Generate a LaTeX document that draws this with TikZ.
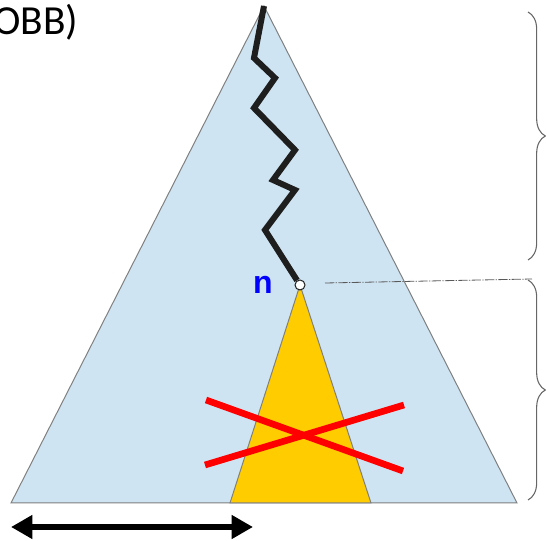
\documentclass[tikz,border=0pt]{standalone}
\usepackage{fontspec}
\setmainfont{Carlito}
\newfontfamily\labelfont{Liberation Sans}
\usetikzlibrary{arrows.meta,decorations.pathreplacing}
\definecolor{treeblue}{RGB}{207,228,242}
\definecolor{subgold}{RGB}{255,204,0}
\definecolor{pathgray}{RGB}{30,30,30}

\begin{document}
\begin{tikzpicture}[
      x=0.75pt,
      y=-0.75pt,
      tri/.style={draw=gray,line width=0.75pt},
      cross/.style={red,line width=5pt},
      bracket/.style={decorate,decoration={brace,amplitude=13pt},
        draw=gray!80!black,line width=0.8pt}
    ]
    \useasboundingbox (0,0) rectangle (547,541);

    % whole tree and the subtree below n
    \coordinate (top) at (264,6);
    \coordinate (bl) at (11,503);
    \coordinate (br) at (517,503);
    \draw[tri,fill=treeblue] (top) -- (bl) -- (br) -- cycle;
    \coordinate (sbl) at (230,503);
    \coordinate (sbr) at (371,503);
    \draw[tri,fill=subgold] (300,285) -- (sbl) -- (sbr) -- cycle;

    \node[circle,draw=pathgray,fill=white,line width=0.75pt,
      minimum size=7.5pt,inner sep=0pt] (n) at (300,285) {};
    \node[text=blue,font=\labelfont\bfseries\fontsize{24}{28}\selectfont]
    (nlabel) at (263,285) {n};

    % path from the root down to n
    \draw[pathgray,line width=4.5pt,line join=miter]
    (top) -- (254,58) -- (275,78) -- (254,108) -- (295,150)
    -- (273,180) -- (295,190) -- (265,230) -- (n);

    \draw[cross] (206,400) -- (403,471);
    \draw[cross] (205,465) -- (404,405);

    % level marker and braces
    \coordinate (lvl) at (325,283);
    \coordinate (lvlend) at (532,279);
    \draw[gray!70!black,line width=0.6pt,dash pattern=on 7pt off 1pt on 1pt off 1pt]
    (lvl) -- (lvlend);
    \draw[bracket] (528,12) -- (528,260);
    \draw[bracket] (528,280) -- (528,500);

    \coordinate (wl) at (11,527);
    \coordinate (wr) at (253,527);
    \draw[{Triangle[length=16pt,width=17pt]}-{Triangle[length=16pt,width=17pt]},
      line width=4.5pt] (wl) -- (wr);

    \node[anchor=base west,inner sep=0pt,font=\fontsize{31}{36}\selectfont]
    (obb) at (-7,35) {OBB)};
  \end{tikzpicture}
\end{document}
